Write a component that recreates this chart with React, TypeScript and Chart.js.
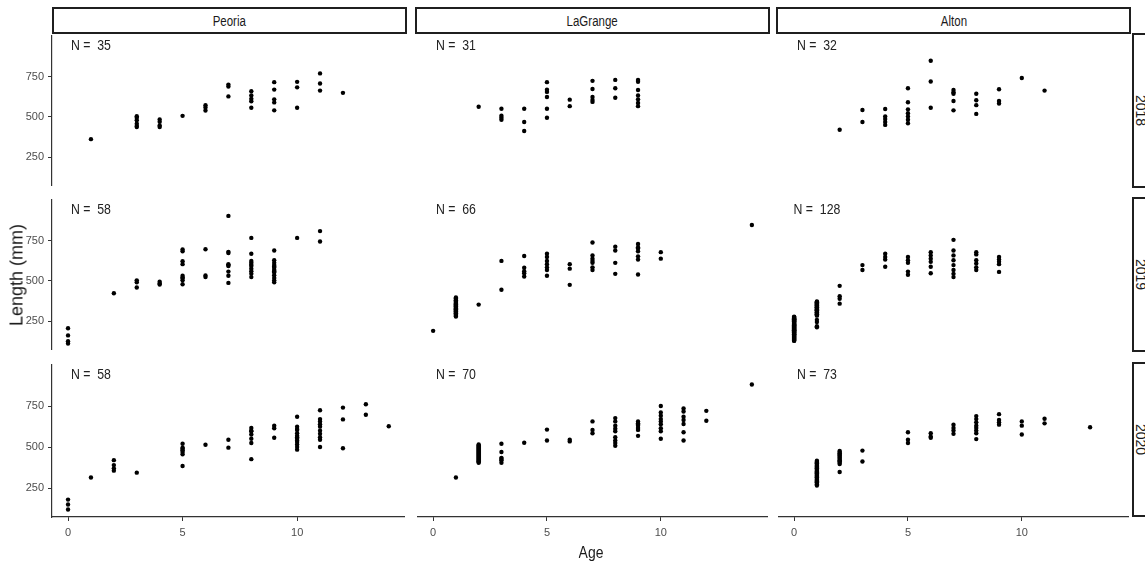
import React, { useEffect, useRef } from 'react';
import { Chart, registerables } from 'chart.js';
Chart.register(...registerables);

type Pt = [number, number];

const sites = ['Peoria', 'LaGrange', 'Alton'];
const years = ['2018', '2019', '2020'];
const xTickValues = [0, 5, 10];
const yTickValues = [250, 500, 750];
const sampleSizes = [
  [35, 31, 32],
  [58, 66, 128],
  [58, 70, 73],
];

// [age, length] pairs per panel
const peoria2018: Pt[] = [
  [1, 363],
  [3, 505], [3, 495], [3, 480], [3, 458], [3, 445], [3, 438],
  [4, 485], [4, 470], [4, 448], [4, 438],
  [5, 507],
  [6, 573], [6, 559], [6, 540],
  [7, 700], [7, 688], [7, 627],
  [8, 659], [8, 633], [8, 612], [8, 597], [8, 557],
  [9, 715], [9, 669], [9, 609], [9, 590], [9, 541],
  [10, 717], [10, 683], [10, 557],
  [11, 769], [11, 707], [11, 663],
  [12, 649],
];
const lagrange2018: Pt[] = [
  [2, 563],
  [3, 551], [3, 508], [3, 495], [3, 483],
  [4, 551], [4, 469], [4, 413],
  [5, 715], [5, 668], [5, 655], [5, 623], [5, 551], [5, 495],
  [6, 607], [6, 567],
  [7, 723], [7, 673], [7, 623], [7, 605], [7, 593],
  [8, 729], [8, 677], [8, 619],
  [9, 729], [9, 717], [9, 667], [9, 633], [9, 609], [9, 587], [9, 567],
];
const alton2018: Pt[] = [
  [2, 421],
  [3, 543], [3, 469],
  [4, 549], [4, 503], [4, 487], [4, 469], [4, 451],
  [5, 677], [5, 591], [5, 547], [5, 523], [5, 503], [5, 483], [5, 461],
  [6, 847], [6, 719], [6, 557],
  [7, 667], [7, 653], [7, 643], [7, 599], [7, 541],
  [8, 643], [8, 603], [8, 573], [8, 519],
  [9, 671], [9, 599], [9, 583],
  [10, 741],
  [11, 663],
];
const peoria2019: Pt[] = [
  [0, 208], [0, 164], [0, 128], [0, 114],
  [2, 424],
  [3, 504], [3, 492], [3, 460],
  [4, 496], [4, 484], [4, 478],
  [5, 694], [5, 684], [5, 622], [5, 604], [5, 532], [5, 520], [5, 518], [5, 504], [5, 480],
  [6, 696], [6, 534], [6, 524],
  [7, 902], [7, 680], [7, 672], [7, 604], [7, 598], [7, 592], [7, 558], [7, 532], [7, 488],
  [8, 766], [8, 668], [8, 624], [8, 612], [8, 600], [8, 592], [8, 576], [8, 560], [8, 544], [8, 524],
  [9, 688], [9, 628], [9, 612], [9, 598], [9, 590], [9, 582], [9, 568], [9, 560], [9, 552], [9, 536], [9, 518], [9, 504], [9, 492],
  [10, 766],
  [11, 808], [11, 744],
];
const lagrange2019: Pt[] = [
  [0, 192],
  [1, 398], [1, 392], [1, 388], [1, 381], [1, 377], [1, 372], [1, 366], [1, 361], [1, 357],
  [1, 352], [1, 348], [1, 344], [1, 339], [1, 335], [1, 331], [1, 326], [1, 322], [1, 318],
  [1, 313], [1, 309], [1, 304], [1, 300], [1, 296], [1, 291], [1, 286], [1, 281],
  [2, 354],
  [3, 624], [3, 446],
  [4, 654], [4, 582], [4, 560], [4, 548], [4, 528],
  [5, 668], [5, 648], [5, 624], [5, 604], [5, 584], [5, 568], [5, 532],
  [6, 604], [6, 576], [6, 476],
  [7, 738], [7, 658], [7, 638], [7, 624], [7, 612], [7, 584], [7, 568],
  [8, 712], [8, 688], [8, 612], [8, 544],
  [9, 728], [9, 708], [9, 700], [9, 684], [9, 652], [9, 632], [9, 540],
  [10, 678], [10, 638],
  [14, 846],
];
const alton2019: Pt[] = [
  [0, 280], [0, 277], [0, 274], [0, 270], [0, 267], [0, 264], [0, 261], [0, 258], [0, 255], [0, 252],
  [0, 249], [0, 246], [0, 243], [0, 241], [0, 238], [0, 235], [0, 232], [0, 229], [0, 226], [0, 223],
  [0, 220], [0, 217], [0, 214], [0, 211], [0, 208], [0, 205], [0, 202], [0, 199], [0, 196], [0, 193],
  [0, 190], [0, 187], [0, 184], [0, 181], [0, 178], [0, 175], [0, 172], [0, 169], [0, 166], [0, 163],
  [0, 160], [0, 157], [0, 154], [0, 151], [0, 148], [0, 145], [0, 142], [0, 139], [0, 136], [0, 133],
  [0, 130], [0, 262], [0, 228], [0, 196], [0, 171],
  [1, 374], [1, 370], [1, 366], [1, 362], [1, 358], [1, 354], [1, 350], [1, 346], [1, 342], [1, 338],
  [1, 334], [1, 330], [1, 326], [1, 322], [1, 318], [1, 314], [1, 310], [1, 306], [1, 302], [1, 298],
  [1, 294], [1, 290], [1, 286], [1, 260], [1, 246], [1, 220], [1, 368], [1, 352], [1, 336], [1, 320],
  [1, 304], [1, 292], [1, 214],
  [2, 470], [2, 406], [2, 390], [2, 360],
  [3, 598], [3, 568],
  [4, 668], [4, 648], [4, 632], [4, 588],
  [5, 648], [5, 628], [5, 612], [5, 558], [5, 538],
  [6, 678], [6, 658], [6, 638], [6, 618], [6, 588], [6, 548],
  [7, 754], [7, 688], [7, 658], [7, 628], [7, 598], [7, 568], [7, 544], [7, 524],
  [8, 678], [8, 664], [8, 628], [8, 608], [8, 584], [8, 568],
  [9, 648], [9, 632], [9, 618], [9, 604], [9, 556],
];
const peoria2020: Pt[] = [
  [0, 181], [0, 151], [0, 121],
  [1, 315],
  [2, 421], [2, 391], [2, 371], [2, 357],
  [3, 345],
  [5, 521], [5, 497], [5, 490], [5, 481], [5, 471], [5, 457], [5, 385],
  [6, 515],
  [7, 545], [7, 497],
  [8, 617], [8, 600], [8, 597], [8, 577], [8, 551], [8, 525], [8, 427],
  [9, 631], [9, 615], [9, 557],
  [10, 685], [10, 625], [10, 610], [10, 605], [10, 585], [10, 569], [10, 560], [10, 551], [10, 540], [10, 531], [10, 517], [10, 501], [10, 485],
  [11, 725], [11, 671], [11, 657], [11, 640], [11, 625], [11, 600], [11, 581], [11, 561], [11, 545], [11, 501],
  [12, 741], [12, 669], [12, 493],
  [13, 761], [13, 697],
  [14, 627],
];
const lagrange2020: Pt[] = [
  [1, 315],
  [2, 517], [2, 511], [2, 505], [2, 499], [2, 493], [2, 487], [2, 481], [2, 475], [2, 469], [2, 463],
  [2, 457], [2, 451], [2, 445], [2, 439], [2, 433], [2, 427], [2, 421], [2, 415], [2, 410], [2, 405],
  [3, 521], [3, 471], [3, 435], [3, 428], [3, 421], [3, 405],
  [4, 527],
  [5, 607], [5, 541],
  [6, 545], [6, 535],
  [7, 657], [7, 605], [7, 585],
  [8, 677], [8, 657], [8, 631], [8, 612], [8, 597], [8, 561], [8, 541], [8, 525], [8, 509],
  [9, 657], [9, 645], [9, 638], [9, 631], [9, 617], [9, 605], [9, 569],
  [10, 751], [10, 711], [10, 691], [10, 671], [10, 657], [10, 640], [10, 615], [10, 597], [10, 551],
  [11, 735], [11, 717], [11, 685], [11, 665], [11, 641], [11, 591], [11, 541],
  [12, 721], [12, 661],
  [14, 881],
];
const alton2020: Pt[] = [
  [1, 417], [1, 412], [1, 407], [1, 402], [1, 397], [1, 392], [1, 387], [1, 382], [1, 377], [1, 372],
  [1, 367], [1, 362], [1, 357], [1, 352], [1, 347], [1, 342], [1, 337], [1, 332], [1, 327], [1, 322],
  [1, 317], [1, 312], [1, 307], [1, 302], [1, 297], [1, 292], [1, 287], [1, 282], [1, 275], [1, 267],
  [2, 477], [2, 470], [2, 463], [2, 456], [2, 449], [2, 442], [2, 435], [2, 428], [2, 421], [2, 414],
  [2, 405], [2, 398], [2, 349],
  [3, 479], [3, 413],
  [5, 591], [5, 545], [5, 525],
  [6, 585], [6, 565], [6, 557],
  [7, 637], [7, 617], [7, 601], [7, 581],
  [8, 689], [8, 671], [8, 651], [8, 631], [8, 617], [8, 601], [8, 585], [8, 549],
  [9, 701], [9, 665], [9, 651], [9, 637],
  [10, 657], [10, 631], [10, 577],
  [11, 673], [11, 645],
  [13, 621],
];

const panelData: Pt[][][] = [
  [peoria2018, lagrange2018, alton2018],
  [peoria2019, lagrange2019, alton2019],
  [peoria2020, lagrange2020, alton2020],
];

const REGULAR = '"Liberation Sans", Arial, sans-serif';
const SQUEEZE = 0.82;

const COL_LEFT = [52, 415, 776];
const ROW_TOP = [33, 197, 362];
const PW = 355;
const PH = 155;
const YAXW = 52;
const XAXH = 30;
const X_MIN = -0.7;
const X_MAX = 14.7;
const Y_MIN = 75;
const Y_MAX = 1005;

function Panel({ row, col }: { row: number; col: number }) {
  const ref = useRef<HTMLCanvasElement>(null);
  const showY = col === 0;
  const showX = row === 2;
  const w = PW + (showY ? YAXW : 0);
  const h = PH + (showX ? XAXH : 0);
  const left = COL_LEFT[col] - (showY ? YAXW : 0);

  useEffect(() => {
    if (!ref.current) return;
    const nPlugin = {
      id: 'nlabel',
      afterDatasetsDraw(chart: any) {
        const { ctx, scales } = chart;
        const x = scales.x.getPixelForValue(1);
        const y = scales.y.getPixelForValue(940);
        ctx.save();
        ctx.translate(x, y);
        ctx.scale(SQUEEZE, 1);
        ctx.font = `15px ${REGULAR}`;
        ctx.fillStyle = '#222';
        ctx.textAlign = 'center';
        ctx.textBaseline = 'middle';
        ctx.fillText(`N =  ${sampleSizes[row][col]}`, 0, 0);
        ctx.restore();
      },
    };
    const axisCommon = {
      type: 'linear' as const,
      grid: {
        display: true,
        drawOnChartArea: false,
        drawTicks: true,
        tickLength: 4,
        color: '#333',
        lineWidth: 1,
      },
      border: { display: true, color: '#333', width: 1.2 },
    };
    const chart = new Chart(ref.current, {
      type: 'scatter',
      data: {
        datasets: [
          {
            data: panelData[row][col].map(([a, l]) => ({ x: a, y: l })),
            pointRadius: 2.2,
            pointHoverRadius: 2.2,
            pointBackgroundColor: '#000',
            pointBorderWidth: 0,
            pointBorderColor: '#000',
          },
        ],
      },
      options: {
        responsive: false,
        animation: false,
        devicePixelRatio: 1,
        events: [],
        layout: { padding: 0 },
        plugins: { legend: { display: false }, tooltip: { enabled: false } },
        scales: {
          x: {
            ...axisCommon,
            display: showX,
            min: X_MIN,
            max: X_MAX,
            afterBuildTicks: (s: any) => {
              s.ticks = xTickValues.map((v) => ({ value: v }));
            },
            afterFit: (s: any) => {
              if (!showX) return;
              s.height = XAXH;
              s.paddingLeft = 0;
              s.paddingRight = 0;
            },
            ticks: {
              color: '#4d4d4d',
              font: { family: REGULAR, size: 11 },
              padding: 5,
              maxRotation: 0,
              autoSkip: false,
            },
          },
          y: {
            ...axisCommon,
            display: showY,
            min: Y_MIN,
            max: Y_MAX,
            afterBuildTicks: (s: any) => {
              s.ticks = yTickValues.map((v) => ({ value: v }));
            },
            afterFit: (s: any) => {
              if (!showY) return;
              s.width = YAXW;
              s.paddingTop = 0;
              s.paddingBottom = 0;
            },
            ticks: {
              color: '#4d4d4d',
              font: { family: REGULAR, size: 11 },
              padding: 4,
              autoSkip: false,
            },
          },
        },
      },
      plugins: [nPlugin],
    });
    return () => chart.destroy();
  }, [row, col]);

  return (
    <canvas
      ref={ref}
      width={w}
      height={h}
      style={{ position: 'absolute', left, top: ROW_TOP[row], width: w, height: h }}
    />
  );
}

export default function App() {
  const panels = [];
  for (let r = 0; r < 3; r++) for (let c = 0; c < 3; c++) panels.push(<Panel key={`${r}-${c}`} row={r} col={c} />);
  return (
    <div
      style={{
        position: 'absolute',
        left: 0,
        top: 0,
        width: 1145,
        height: 566,
        overflow: 'hidden',
        background: '#fff',
      }}
    >
      {sites.map((s, c) => (
        <div
          key={s}
          style={{
            position: 'absolute',
            left: COL_LEFT[c],
            top: 7,
            width: PW,
            height: 27,
            border: '2px solid #1f1f1f',
            boxSizing: 'border-box',
            display: 'flex',
            alignItems: 'center',
            justifyContent: 'center',
            font: `14px ${REGULAR}`,
            color: '#1a1a1a',
          }}
        >
          <span style={{ display: 'inline-block', transform: `scaleX(${SQUEEZE})` }}>{s}</span>
        </div>
      ))}
      {years.map((y, r) => (
        <div
          key={y}
          style={{
            position: 'absolute',
            left: 1132,
            top: ROW_TOP[r],
            width: 18,
            height: PH,
            border: '2px solid #1f1f1f',
            boxSizing: 'border-box',
            display: 'flex',
            alignItems: 'center',
            justifyContent: 'center',
            font: `14px ${REGULAR}`,
            color: '#1a1a1a',
            overflow: 'visible',
          }}
        >
          <span style={{ writingMode: 'vertical-rl', whiteSpace: 'nowrap' }}>{y}</span>
        </div>
      ))}
      {panels}
      <div
        style={{
          position: 'absolute',
          left: 17,
          top: 275,
          transform: 'translate(-50%, -50%) rotate(-90deg)',
          font: `18px ${REGULAR}`,
          color: '#1a1a1a',
          whiteSpace: 'nowrap',
        }}
      >
        Length (mm)
      </div>
      <div
        style={{
          position: 'absolute',
          left: 591,
          top: 553,
          transform: `translate(-50%, -50%) scaleX(${SQUEEZE})`,
          font: `17px ${REGULAR}`,
          color: '#1a1a1a',
          whiteSpace: 'nowrap',
        }}
      >
        Age
      </div>
    </div>
  );
}
